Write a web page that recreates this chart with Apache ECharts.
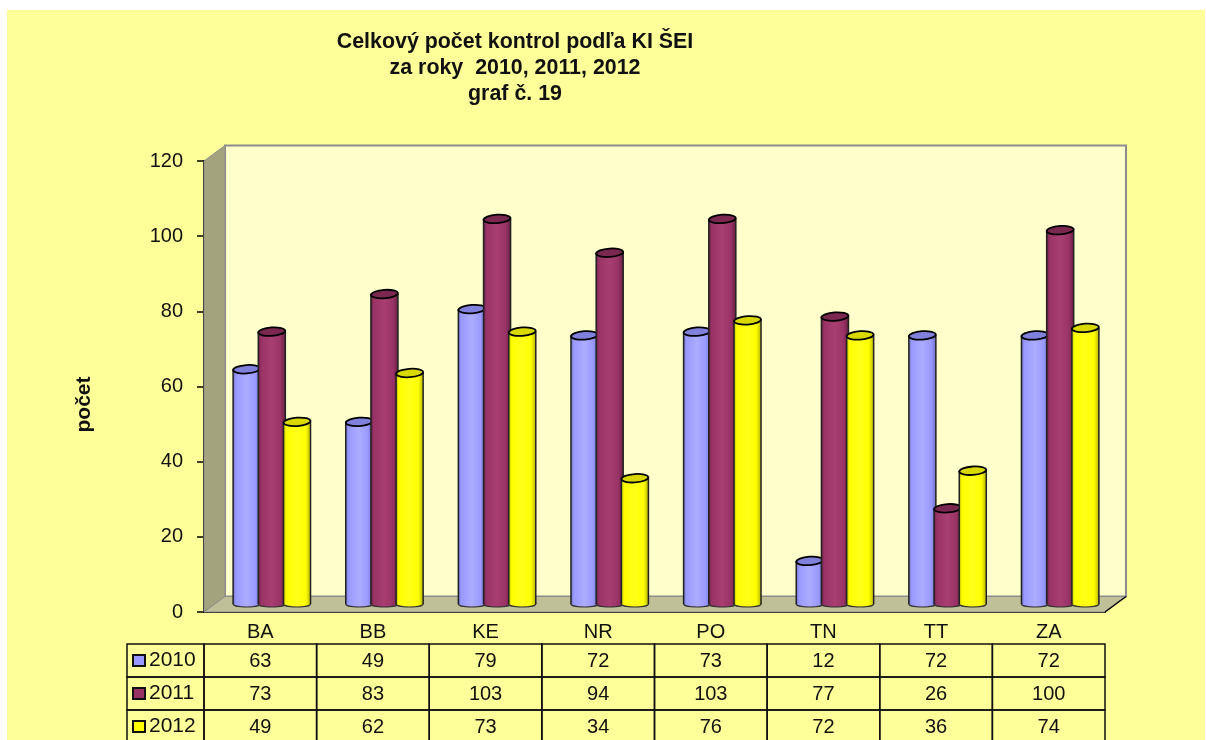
<!DOCTYPE html>
<html>
<head>
<meta charset="utf-8">
<title>graf 19</title>
<script src="https://cdn.jsdelivr.net/npm/echarts@6/dist/echarts.min.js"></script>
<style>
html, body { margin: 0; padding: 0; background: #fff; }
#chart { width: 1206px; height: 740px; }
</style>
</head>
<body>
<div id="chart"></div>
<script>
const categories = ['BA', 'BB', 'KE', 'NR', 'PO', 'TN', 'TT', 'ZA'];
const years = ['2010', '2011', '2012'];
const values2010 = [63, 49, 79, 72, 73, 12, 72, 72];
const values2011 = [73, 83, 103, 94, 103, 77, 26, 100];
const values2012 = [49, 62, 73, 34, 76, 72, 36, 74];
const yTicks = { min: 0, max: 120, interval: 20 };

const allValues = [values2010, values2011, values2012];
const fontName = '"Liberation Sans", Arial, sans-serif';
// light, mid, dark, top cap
const barColors = [
  ['#acacff', '#9999ff', '#6f6fc4', '#8080dd'],
  ['#a83e72', '#993366', '#6a2045', '#7a2850'],
  ['#ffff1a', '#ffff00', '#b8b800', '#d9d900']
];
const depthX = 21;
const depthY = -15.5;

const myChart = echarts.init(document.getElementById('chart'));

// side wall, floor and back wall of the fake 3d box
const renderWalls = (params) => {
  const c = params.coordSys;
  const l = c.x, t = c.y, r = c.x + c.width, b = c.y + c.height;
  return {
    type: 'group',
    children: [
      { type: 'rect', shape: { x: l + depthX, y: t + depthY, width: c.width, height: c.height },
        style: { fill: '#ffffcc', stroke: '#8c8c8c', lineWidth: 2 } },
      { type: 'polygon', shape: { points: [[l, t], [l + depthX, t + depthY], [l + depthX, b + depthY], [l, b]] },
        style: { fill: '#a3a37e', stroke: '#8c8c8c', lineWidth: 1 } },
      { type: 'polygon', shape: { points: [[l, b], [l + depthX, b + depthY], [r + depthX, b + depthY], [r, b]] },
        style: { fill: '#c0c098', stroke: '#8c8c8c', lineWidth: 1 } },
      // front right corner of the floor is closed with a black edge
      { type: 'line', shape: { x1: r, y1: b, x2: r + depthX, y2: b + depthY },
        style: { stroke: '#000', lineWidth: 1.5 } }
    ]
  };
};

const renderCylinder = (seriesIndex) => (params, api) => {
  const catWidth = api.size([1, 0])[0];
  const shift = (seriesIndex - 1) * 25.2 + 11.5;
  const w = catWidth * 0.24;
  const top = api.coord([api.value(0), api.value(1)]);
  const base = api.coord([api.value(0), 0]);
  const cx = top[0] + shift;
  const topY = top[1] - 6;
  const baseY = base[1] - 8;
  const rx = w / 2;
  const col = barColors[seriesIndex];
  const body = new echarts.graphic.LinearGradient(0, 0, 1, 0, [
    { offset: 0, color: col[2] },
    { offset: 0.1, color: col[1] },
    { offset: 0.5, color: col[0] },
    { offset: 0.82, color: col[1] },
    { offset: 1, color: col[2] }
  ]);
  return {
    type: 'group',
    children: [
      { type: 'ellipse', shape: { cx: cx, cy: baseY, rx: rx, ry: 3 },
        style: { fill: body, stroke: '#333', lineWidth: 1.2 } },
      { type: 'rect', shape: { x: cx - rx, y: topY, width: w, height: baseY - topY },
        style: { fill: body } },
      { type: 'line', shape: { x1: cx - rx, y1: topY, x2: cx - rx, y2: baseY },
        style: { stroke: '#222', lineWidth: 1.5 } },
      { type: 'line', shape: { x1: cx + rx, y1: topY, x2: cx + rx, y2: baseY },
        style: { stroke: '#222', lineWidth: 1.5 } },
      { type: 'ellipse', shape: { cx: cx, cy: topY, rx: rx, ry: 4.2 },
        rotation: 0.07, originX: cx, originY: topY,
        style: { fill: col[3], stroke: '#000', lineWidth: 1.8 } }
    ]
  };
};

const renderCell = (params, api) => {
  const col = api.value(0);
  const row = api.value(1);
  const centre = api.coord([col + 0, row + 0.5]);
  const size = api.size([1, 1]);
  const x = centre[0] - size[0] / 2;
  const y = centre[1] - size[1] / 2;
  const children = [
    { type: 'rect', shape: { x: x, y: y, width: size[0], height: size[1] },
      style: { fill: 'none', stroke: '#111', lineWidth: 1.5 } },
    { type: 'text', style: { x: centre[0], y: centre[1] + 1, text: String(api.value(2)),
      font: '20px ' + fontName, fill: '#111', align: 'center', verticalAlign: 'middle' } }
  ];
  // cell of the legend column, left of the first category
  if (col === 0) {
    children.push({ type: 'rect', shape: { x: x - 77, y: y, width: 77, height: size[1] },
      style: { fill: 'none', stroke: '#111', lineWidth: 1.5 } });
  }
  return { type: 'group', children: children };
};

const tableCells = [];
allValues.forEach((list, row) => {
  list.forEach((v, col) => tableCells.push([col, row, v]));
});

const barSeries = years.map((year, i) => ({
  name: year,
  type: 'custom',
  xAxisIndex: 0,
  yAxisIndex: 0,
  z: 5 + i,
  clip: false,
  silent: true,
  itemStyle: { color: barColors[i][1] },
  renderItem: renderCylinder(i),
  encode: { x: 0, y: 1 },
  data: allValues[i].map((v, c) => [c, v])
}));

myChart.setOption({
  animation: false,
  backgroundColor: '#fff',
  textStyle: { fontFamily: fontName },
  graphic: [
    { type: 'rect', z: -10, silent: true, shape: { x: 7, y: 10, width: 1198, height: 730 },
      style: { fill: '#ffff99' } }
  ],
  title: {
    text: 'Celkový počet kontrol podľa KI ŠEI\nza roky  2010, 2011, 2012\ngraf č. 19',
    left: 510,
    top: 24,
    textAlign: 'center',
    textStyle: { fontSize: 21.4, fontWeight: 'bold', color: '#111', lineHeight: 26, fontFamily: fontName }
  },
  legend: {
    orient: 'vertical',
    left: 132,
    top: 650,
    itemWidth: 12,
    itemHeight: 11,
    itemGap: 12,
    padding: 0,
    selectedMode: false,
    textStyle: { fontSize: 21, color: '#111', fontFamily: fontName, padding: [0, 0, 0, -1] },
    data: years.map((y, i) => ({
      name: y,
      icon: 'rect',
      itemStyle: { color: barColors[i][1], borderColor: '#111', borderWidth: 2 }
    }))
  },
  grid: [
    { left: 204, top: 161, width: 901, height: 451 },
    { left: 204, top: 644, width: 901, height: 96 }
  ],
  xAxis: [
    {
      type: 'category',
      gridIndex: 0,
      data: categories,
      axisLine: { onZero: false, lineStyle: { color: '#000', width: 2 } },
      axisTick: { length: 32, alignWithLabel: false, lineStyle: { color: '#77775a', width: 1.5 } },
      axisLabel: { fontSize: 20, color: '#111', margin: 10, fontFamily: fontName }
    },
    {
      type: 'category',
      gridIndex: 1,
      data: categories,
      show: false
    }
  ],
  yAxis: [
    {
      type: 'value',
      gridIndex: 0,
      min: yTicks.min,
      max: yTicks.max,
      interval: yTicks.interval,
      name: 'počet',
      nameLocation: 'middle',
      nameRotate: 90,
      nameGap: 109,
      nameTextStyle: { fontSize: 21, fontWeight: 'bold', color: '#111', padding: [0, 36, 0, 0], fontFamily: fontName },
      axisLine: { show: true, lineStyle: { color: '#000', width: 2 } },
      axisTick: { show: true, length: 7, lineStyle: { color: '#000', width: 1.5 } },
      axisLabel: { fontSize: 20, color: '#111', margin: 21, padding: [6, 0, 0, 0], fontFamily: fontName },
      splitLine: { show: false }
    },
    {
      // rows of the table, the window cuts the last one at 96 / 33 rows
      type: 'value',
      gridIndex: 1,
      inverse: true,
      min: 0,
      max: 2.91,
      show: false
    }
  ],
  series: [
    {
      name: 'walls',
      type: 'custom',
      xAxisIndex: 0,
      yAxisIndex: 0,
      z: 1,
      clip: false,
      silent: true,
      renderItem: renderWalls,
      data: [[0, 0]]
    },
    ...barSeries,
    {
      name: 'table',
      type: 'custom',
      xAxisIndex: 1,
      yAxisIndex: 1,
      z: 3,
      clip: false,
      silent: true,
      renderItem: renderCell,
      encode: { x: 0, y: 1 },
      data: tableCells
    }
  ]
});
</script>
</body>
</html>
